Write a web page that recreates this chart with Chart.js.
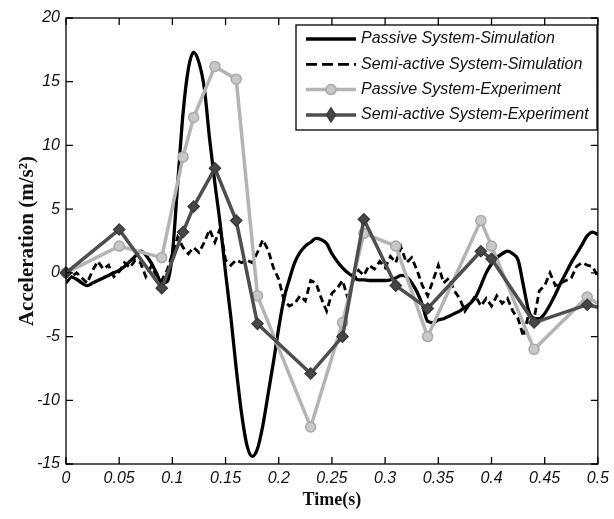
<!DOCTYPE html>
<html>
<head>
<meta charset="utf-8">
<script src="https://cdn.jsdelivr.net/npm/chart.js@4.4.0/dist/chart.umd.min.js"></script>
<style>
  html, body { margin: 0; padding: 0; background: #fff; }
  #wrap { width: 614px; height: 519px; }
</style>
</head>
<body>
<div id="wrap"><canvas id="chart" width="614" height="519"></canvas></div>
<script>
// simulation samples (s)
const simTime = [
  0, 0.005, 0.01, 0.015, 0.02, 0.025, 0.03, 0.035, 0.04, 0.045,
  0.05, 0.055, 0.06, 0.065, 0.07, 0.075, 0.08, 0.085, 0.09, 0.095,
  0.1, 0.105, 0.11, 0.115, 0.12, 0.125, 0.13, 0.135, 0.14, 0.145,
  0.15, 0.155, 0.16, 0.165, 0.17, 0.175, 0.18, 0.185, 0.19, 0.195,
  0.2, 0.205, 0.21, 0.215, 0.22, 0.225, 0.23, 0.235, 0.24, 0.245,
  0.25, 0.255, 0.26, 0.265, 0.27, 0.275, 0.28, 0.285, 0.29, 0.295,
  0.3, 0.305, 0.31, 0.315, 0.32, 0.325, 0.33, 0.335, 0.34, 0.345,
  0.35, 0.355, 0.36, 0.365, 0.37, 0.375, 0.38, 0.385, 0.39, 0.395,
  0.4, 0.405, 0.41, 0.415, 0.42, 0.425, 0.43, 0.435, 0.44, 0.445,
  0.45, 0.455, 0.46, 0.465, 0.47, 0.475, 0.48, 0.485, 0.49, 0.495,
  0.5
];
const passiveSim = [
  -0.2, -0.3, -0.5, -0.8, -1.0, -0.8, -0.6, -0.4, -0.2, 0,
  0.2, 0.5, 0.9, 1.3, 1.7, 1.4, 0.8, 0, -0.8, -0.7,
  1.5, 7, 12.5, 16, 17.3, 16.5, 14.5, 10.5, 7, 3.8,
  0, -3.5, -7.5, -11, -13.5, -14.4, -13.8, -12, -9.5, -7,
  -4.3, -2, -0.5, 0.8, 1.6, 2.1, 2.4, 2.7, 2.6, 2.3,
  1.5, 0.9, 0.4, 0, -0.3, -0.55, -0.55, -0.6, -0.6, -0.6,
  -0.6, -0.55, -0.4, -0.2, -0.3, -0.8, -1.5, -2.5, -3.8, -3.9,
  -3.7, -3.6, -3.4, -3.2, -3.0, -2.7, -2.4, -1.9, -1.0, 0,
  0.7, 1.2, 1.5, 1.7, 1.5, 1.0, -1.0, -3.0, -3.6, -3.6,
  -3.2, -2.5, -1.7, -0.8, 0, 0.8, 1.5, 2.2, 2.9, 3.2,
  3.0
];
const semiSim = [
  -0.8, -0.3, 0, -0.4, -0.8, 0.2, 0.9, 0.3, 0.6, -0.3,
  0.1, 0.8, 0.4, 1.0, 0.8, -0.3, 0.5, -0.2, -0.6, 0.2,
  1.5, 2.8, 2.0, 1.5, 2.0, 1.6, 2.4, 3.4, 2.4, 3.5,
  1.0, 0.6, 1.0, 0.8, 1.0, 0.8, 1.6, 2.6, 1.8, 0.4,
  -0.5, -2.2, -2.6, -2.4, -1.8, -2.2, -0.6, -0.8, -2.0, -3.0,
  -1.6, -1.2, -0.6, -2.0, -0.6, 0.2, -0.2, 0.6, 0.3, 0.9,
  0.4, 1.3, 0.8, 2.0, 0.8, 1.2, 0.2, -1.0, -1.8, -0.6,
  0.6, -0.8, -0.4, -1.4, -2.0, -3.0, -2.4, -1.8, -2.6, -2.0,
  -2.6, -1.8, -2.4, -2.0, -3.0, -3.6, -5.0, -3.2, -3.6, -1.4,
  -1.0, 0, -1.0, -0.8, -0.6, -0.4, 0.5, 0.8, 0.6, 0.5,
  -0.3
];

// experiment samples
const expTime = [0, 0.05, 0.09, 0.11, 0.12, 0.14, 0.16, 0.18, 0.23, 0.26, 0.28, 0.31, 0.34, 0.39, 0.40, 0.44, 0.49, 0.5];
const passiveExp = [0, 2.1, 1.2, 9.1, 12.2, 16.2, 15.2, -1.8, -12.1, -3.9, 3.1, 2.1, -5.0, 4.1, 2.1, -6.0, -1.9, -2.4];
const semiExp = [0, 3.4, -1.2, 3.2, 5.2, 8.2, 4.1, -4.0, -7.9, -5.0, 4.2, -1.0, -2.8, 1.7, 1.1, -3.9, -2.5, -2.7];

const xTickLabels = ['0', '0.05', '0.1', '0.15', '0.2', '0.25', '0.3', '0.35', '0.4', '0.45', '0.5'];
const yTickLabels = ['-15', '-10', '-5', '0', '5', '10', '15', '20'];
const seriesLabels = [
  'Passive System-Simulation',
  'Semi-active System-Simulation',
  'Passive System-Experiment',
  'Semi-active System-Experiment'
];

const toPoints = (xs, ys) => xs.map((x, i) => ({ x: x, y: ys[i] }));
const lastIdx = expTime.length - 1;

const tickFont = { family: '"Liberation Sans", Arial, sans-serif', size: 16, style: 'italic' };
const titleFont = { family: '"Liberation Serif", "Times New Roman", serif', weight: 'bold' };

// box frame with inward ticks on all four sides, then the legend
const framePlugin = {
    id: 'frame',
    afterDraw(chart) {
        const ctx = chart.ctx;
        const a = chart.chartArea;
        const xs = chart.scales.x, ys = chart.scales.y;
        const tl = 7;
        ctx.save();
        ctx.strokeStyle = '#000';
        ctx.lineWidth = 1.3;
        ctx.strokeRect(a.left, a.top, a.right - a.left, a.bottom - a.top);
        ctx.beginPath();
        xs.ticks.forEach(t => {
            const px = xs.getPixelForValue(t.value);
            ctx.moveTo(px, a.bottom); ctx.lineTo(px, a.bottom - tl);
            ctx.moveTo(px, a.top); ctx.lineTo(px, a.top + tl);
        });
        ys.ticks.forEach(t => {
            const py = ys.getPixelForValue(t.value);
            ctx.moveTo(a.left, py); ctx.lineTo(a.left + tl, py);
            ctx.moveTo(a.right, py); ctx.lineTo(a.right - tl, py);
        });
        ctx.stroke();

        // legend
        const bx = 296, by = 25, bw = 301, bh = 105;
        ctx.fillStyle = '#fff';
        ctx.fillRect(bx, by, bw, bh);
        ctx.lineWidth = 1.3;
        ctx.strokeRect(bx, by, bw, bh);
        ctx.font = 'italic 16px "Liberation Sans", Arial, sans-serif';
        ctx.textBaseline = 'middle';
        ctx.textAlign = 'left';
        chart.data.datasets.forEach((ds, i) => {
            const y = 39 + i * 25.3;
            ctx.save();
            ctx.strokeStyle = ds.borderColor;
            ctx.lineWidth = ds.borderWidth;
            ctx.setLineDash(ds.borderDash ? [11, 5] : []);
            ctx.beginPath();
            ctx.moveTo(306, y); ctx.lineTo(356, y);
            ctx.stroke();
            ctx.restore();
            if (ds.pointStyle && ds.legendMarker) {
                const cx = 331;
                ctx.save();
                ctx.fillStyle = ds.pointBackgroundColor;
                ctx.strokeStyle = ds.pointBorderColor;
                ctx.lineWidth = 1.5;
                ctx.beginPath();
                if (ds.pointStyle === 'circle') {
                    ctx.arc(cx, y, 5, 0, Math.PI * 2);
                } else {
                    ctx.moveTo(cx, y - 7); ctx.lineTo(cx + 4.5, y);
                    ctx.lineTo(cx, y + 7); ctx.lineTo(cx - 4.5, y);
                    ctx.closePath();
                }
                ctx.fill(); ctx.stroke();
                ctx.restore();
            }
            ctx.fillStyle = '#111';
            ctx.fillText(seriesLabels[i], 361, y);
        });
        ctx.restore();
    }
};

new Chart(document.getElementById('chart'), {
    type: 'line',
    data: {
        datasets: [
            {
                label: seriesLabels[0],
                data: toPoints(simTime, passiveSim),
                borderColor: '#000',
                borderWidth: 3.3,
                pointRadius: 0,
                cubicInterpolationMode: 'monotone',
                order: 4
            },
            {
                label: seriesLabels[1],
                data: toPoints(simTime, semiSim),
                borderColor: '#000',
                borderWidth: 2.8,
                borderDash: [7, 4],
                pointRadius: 0,
                tension: 0,
                order: 3
            },
            {
                label: seriesLabels[2],
                data: toPoints(expTime, passiveExp),
                borderColor: '#b4b4b4',
                borderWidth: 3.5,
                pointStyle: 'circle',
                pointRadius: ctx => ctx.dataIndex === lastIdx ? 0 : 5,
                pointBackgroundColor: '#c8c8c8',
                pointBorderColor: '#a9a9a9',
                pointBorderWidth: 1.5,
                legendMarker: true,
                clip: false,
                tension: 0,
                order: 2
            },
            {
                label: seriesLabels[3],
                data: toPoints(expTime, semiExp),
                borderColor: '#4e4e4e',
                borderWidth: 3.5,
                pointStyle: 'rectRot',
                pointRadius: ctx => ctx.dataIndex === lastIdx ? 0 : 5.5,
                pointBackgroundColor: '#474747',
                pointBorderColor: '#3a3a3a',
                pointBorderWidth: 1.5,
                legendMarker: true,
                clip: false,
                tension: 0,
                order: 1
            }
        ]
    },
    options: {
        animation: false,
        responsive: false,
        devicePixelRatio: 1,
        layout: { padding: { top: 18, right: 13, left: 0, bottom: 0 } },
        plugins: {
            legend: { display: false },
            tooltip: { enabled: false }
        },
        scales: {
            x: {
                type: 'linear',
                min: 0,
                max: 0.5,
                afterFit: s => { s.height = 55; },
                grid: { display: false, drawTicks: false },
                border: { display: false },
                ticks: {
                    stepSize: 0.05,
                    padding: 5,
                    color: '#111',
                    font: tickFont,
                    maxRotation: 0,
                    autoSkip: false,
                    callback: v => xTickLabels[Math.round(v / 0.05)]
                },
                title: {
                    display: true,
                    text: 'Time(s)',
                    color: '#111',
                    font: Object.assign({ size: 18 }, titleFont),
                    padding: { top: 0, bottom: 8 }
                }
            },
            y: {
                min: -15,
                max: 20,
                afterFit: s => { s.width = 66; },
                grid: { display: false, drawTicks: false },
                border: { display: false },
                ticks: {
                    stepSize: 5,
                    padding: 6,
                    color: '#111',
                    font: tickFont,
                    callback: v => yTickLabels[Math.round((v + 15) / 5)]
                },
                title: {
                    display: true,
                    text: 'Acceleration (m/s²)',
                    color: '#111',
                    font: Object.assign({ size: 21 }, titleFont),
                    padding: { top: 15, bottom: 0 }
                }
            }
        }
    },
    plugins: [framePlugin]
});
</script>
</body>
</html>
